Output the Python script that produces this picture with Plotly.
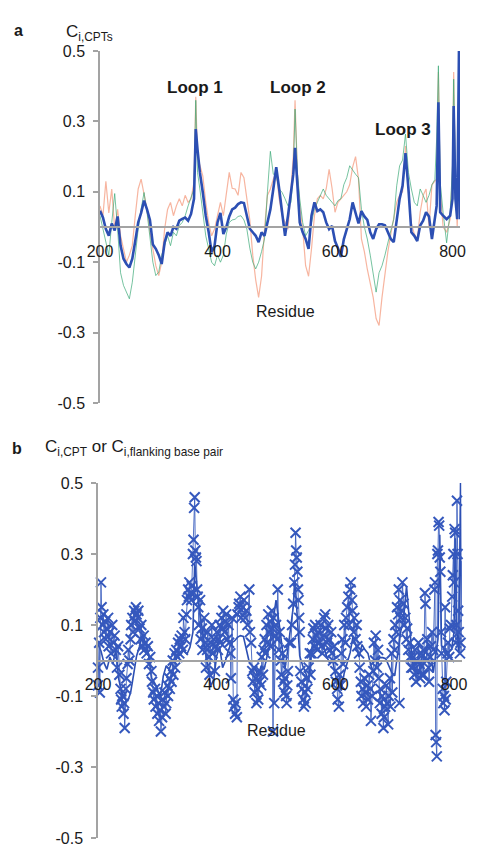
import plotly.graph_objects as go

# ---------------- Panel a data ----------------
residues_a = [
    200, 205, 210, 215, 220, 225, 230, 235, 240, 245,
    250, 255, 260, 265, 270, 275, 280, 285, 290, 295,
    300, 305, 310, 315, 320, 325, 330, 335, 340, 345,
    350, 355, 360, 363, 366, 370, 375, 380, 385, 390,
    395, 400, 405, 410, 415, 420, 425, 430, 435, 440,
    445, 450, 455, 460, 465, 470, 475, 480, 485, 490,
    495, 500, 505, 510, 515, 520, 525, 529, 532, 536,
    540, 545, 550, 555, 560, 565, 570, 575, 580, 585,
    590, 595, 600, 605, 610, 615, 620, 625, 630, 635,
    640, 645, 650, 655, 660, 665, 670, 675, 680, 685,
    690, 695, 700, 705, 710, 715, 720, 725, 730, 735,
    740, 745, 750, 755, 760, 765, 770, 773, 776, 779,
    784, 790, 796, 800, 802, 805, 808, 811, 813,
]

blue_a = [
    0.046, 0.027, -0.006, -0.025, 0.010, -0.010, 0.030, -0.053, -0.090, -0.105,
    -0.115, -0.090, -0.040, 0.013, 0.040, 0.075, 0.050, 0.020, -0.050, -0.062,
    -0.080, -0.105, -0.044, -0.015, -0.025, 0.000, -0.005, 0.018, 0.023, 0.027,
    0.018, 0.037, 0.080, 0.278, 0.220, 0.155, 0.098, 0.032, -0.015, -0.072,
    -0.053, 0.013, 0.040, -0.020, 0.000, 0.030, 0.050, 0.055, 0.065, 0.070,
    0.068, 0.035, -0.005, -0.015, -0.025, -0.043, -0.015, -0.025, 0.010, 0.050,
    0.108, 0.170, 0.108, 0.032, -0.025, 0.032, 0.108, 0.150, 0.225, 0.108,
    0.013, -0.015, -0.034, -0.062, 0.032, 0.070, 0.045, 0.050, 0.042, 0.013,
    -0.006, 0.003, -0.040, -0.060, -0.085, -0.035, -0.006, 0.022, 0.070, 0.040,
    0.010, 0.045, 0.030, 0.020, -0.015, -0.034, -0.006, 0.008, 0.008, 0.005,
    -0.015, -0.034, -0.043, 0.022, 0.080, 0.117, 0.210, 0.108, -0.015, -0.025,
    -0.040, 0.004, 0.018, 0.042, 0.030, -0.034, 0.032, 0.060, 0.354, 0.042,
    0.032, 0.022, 0.032, 0.080, 0.344, 0.080, 0.022, 0.500, 0.022,
]

salmon_a = [
    0.060, 0.032, 0.130, 0.040, 0.108, -0.006, 0.050, -0.025, -0.062, -0.100,
    -0.080, -0.053, 0.032, 0.108, 0.136, 0.090, 0.050, -0.015, -0.062, -0.110,
    -0.138, -0.100, -0.006, 0.050, 0.070, 0.032, 0.060, 0.080, 0.060, 0.090,
    0.070, 0.080, 0.127, 0.370, 0.200, 0.174, 0.145, 0.070, 0.013, -0.025,
    -0.006, 0.032, 0.070, 0.032, 0.100, 0.155, 0.110, 0.108, 0.090, 0.155,
    0.140, 0.080, 0.020, -0.080, -0.150, -0.200, -0.140, -0.006, 0.090, 0.108,
    0.136, 0.155, 0.080, 0.032, 0.010, -0.006, 0.108, 0.200, 0.360, 0.155,
    0.060, -0.006, -0.110, -0.140, -0.062, 0.032, 0.080, 0.090, 0.080, 0.108,
    0.164, 0.110, 0.042, 0.070, 0.080, 0.090, 0.100, 0.120, 0.170, 0.200,
    0.136, -0.034, -0.070, -0.120, -0.165, -0.200, -0.260, -0.280, -0.200, -0.130,
    -0.070, -0.020, 0.030, 0.070, 0.090, 0.100, 0.230, 0.100, 0.010, -0.020,
    -0.034, 0.042, 0.090, 0.108, 0.000, 0.120, 0.130, 0.136, 0.440, 0.108,
    0.000, -0.015, 0.022, 0.155, 0.440, 0.136, 0.000, 0.150, 0.100,
]

green_a = [
    0.032, -0.006, -0.044, -0.080, 0.013, 0.095, -0.006, -0.130, -0.166, -0.185,
    -0.204, -0.157, -0.080, -0.006, 0.051, 0.098, 0.042, -0.034, -0.100, -0.138,
    -0.128, -0.080, -0.053, -0.025, -0.053, -0.015, -0.025, 0.004, 0.013, 0.032,
    0.060, 0.085, 0.108, 0.360, 0.155, 0.108, 0.032, -0.025, -0.062, -0.100,
    -0.110, -0.080, -0.100, -0.080, -0.020, 0.013, 0.020, 0.022, 0.030, 0.032,
    0.020, -0.006, -0.060, -0.100, -0.119, -0.100, -0.070, -0.034, 0.100, 0.215,
    0.150, 0.145, 0.108, 0.098, 0.080, 0.060, 0.070, 0.150, 0.335, 0.155,
    0.080, 0.013, -0.025, -0.010, 0.013, 0.051, 0.070, 0.090, 0.108, 0.090,
    0.080, 0.070, 0.060, 0.075, 0.080, 0.120, 0.140, 0.174, 0.160, 0.150,
    0.140, 0.050, 0.000, -0.034, -0.080, -0.140, -0.185, -0.130, -0.110, -0.080,
    -0.040, -0.010, 0.022, 0.117, 0.174, 0.190, 0.264, 0.155, 0.108, 0.070,
    0.060, 0.108, 0.090, 0.070, 0.090, 0.120, 0.135, 0.250, 0.458, 0.127,
    0.042, -0.045, 0.042, 0.174, 0.420, 0.155, 0.060, 0.180, 0.050,
]

# ---------------- Panel b data (crosses) ----------------
residues_b = [
    198, 200, 200, 202, 203, 204, 205, 206, 208, 209, 210, 212, 213, 215, 217, 218,
    220, 222, 224, 226, 228, 230, 232, 234,
    236, 238, 239, 240, 241, 243, 244, 245, 247, 248, 250,
    251, 253, 255, 256, 258, 259, 261, 262, 264, 265, 267, 268, 270,
    272, 273, 275, 277, 278, 280, 282, 284, 286, 288, 290,
    291, 293, 294, 296, 297, 299, 300, 302, 303, 305, 306, 308, 309, 311, 312, 314,
    315, 317, 318, 320,
    321, 323, 324, 326, 327, 329, 330, 332, 334, 335, 337, 338, 340, 341, 343, 344,
    346, 347, 349,
    350, 352, 353, 354, 356, 357, 358, 360, 361, 362, 363, 364, 365, 366, 367, 368,
    369, 370, 372, 373, 375, 376, 378, 379, 381, 382, 384, 385, 387, 388, 390, 392,
    393, 395, 397, 398,
    400, 402, 403, 405, 406, 408, 410, 411, 413, 415, 416, 418,
    420, 421, 423, 424, 426, 428, 429, 431, 432, 434, 435, 437,
    438, 440, 441, 444, 446, 448, 450, 452, 455, 456, 458,
    460, 461, 463, 464, 466, 467, 469, 470, 472, 473, 475, 476, 478, 479,
    481, 482, 484, 485, 487, 488, 490, 491, 493, 494, 495, 496, 497, 499,
    500, 502, 503, 505, 506, 508, 509, 511, 512, 514, 515, 517, 518, 519,
    520, 522, 525, 527, 529, 531, 532, 533, 534, 535, 536, 537, 538, 539,
    540, 541, 543, 544, 546, 547, 549, 550, 552, 553, 555, 557, 558,
    560, 562, 563, 565, 566, 568, 570, 571, 573, 575, 576, 578, 580, 581, 583, 584,
    586, 588, 589, 591, 593, 594, 596, 598,
    600, 601, 603, 604, 606, 607, 609, 610, 612, 613, 615, 617, 618,
    620, 622, 623, 625, 626, 628, 629, 631, 632, 634, 636, 637,
    640, 641, 643, 644, 646, 647, 649, 651, 652, 654, 655, 657, 659, 660, 662, 664,
    665, 667, 668, 670, 672, 673, 675, 676, 678, 679, 681, 682, 684, 686, 687,
    689, 690, 692, 693, 695, 696, 698, 700, 701, 703, 704, 706, 707, 708, 709, 710,
    712, 713, 715, 716, 718, 720, 721, 723, 725, 726, 728,
    730, 731, 733, 734, 736, 737, 739, 740, 742, 743, 745, 746, 748, 749, 751, 752,
    754, 755, 757, 758, 760,
    761, 763, 765, 767, 768, 769, 770, 771, 772, 773, 774, 775, 776, 777, 778, 779,
    781, 782, 783, 784, 785, 786, 787, 789, 790, 792, 793,
    795, 797, 798, 799, 800, 801, 802, 803, 804, 805, 806, 807, 808,
    810, 811, 813, 814, 815,
]

values_b = [
    0.03, -0.02, -0.07, 0.05, -0.09, 0.12, 0.22, 0.15, 0.10, 0.13, 0.08, 0.11, 0.06, 0.09, 0.12, 0.04,
    0.08, 0.02, 0.10, 0.05, 0.07, 0.03, -0.02, 0.04,
    -0.04, -0.08, -0.11, -0.13, -0.10, -0.15, -0.12, -0.19, -0.08, -0.05, -0.01,
    0.03, 0.00, 0.06, 0.10, 0.12, 0.08, 0.14, 0.11, 0.15, 0.13, 0.12, 0.14, 0.09,
    0.06, 0.10, 0.04, 0.07, 0.03, 0.05, 0.02, 0.04, -0.01, 0.01, -0.03,
    -0.06, -0.09, -0.11, -0.08, -0.13, -0.10, -0.15, -0.12, -0.17, -0.14, -0.20, -0.16, -0.11, -0.13, -0.09, -0.15,
    -0.12, -0.07, -0.10, -0.05,
    -0.08, -0.03, -0.06, 0.00, -0.04, 0.02, -0.02, 0.03, 0.01, 0.05, 0.02, 0.06, 0.04, 0.07, 0.03, 0.12,
    0.08, 0.06, 0.13,
    0.17, 0.20, 0.18, 0.22, 0.19, 0.17, 0.21, 0.30, 0.34, 0.43, 0.46, 0.31, 0.29, 0.28, 0.20, 0.18,
    0.15, 0.10, 0.17, 0.06, 0.09, 0.03, 0.07, 0.12, 0.05, -0.02, 0.03, 0.08, 0.01, -0.04, 0.05, 0.10,
    0.02, 0.06, -0.03, 0.04,
    0.08, 0.03, 0.06, 0.10, 0.05, 0.12, 0.09, 0.14, 0.08, 0.11, 0.13, 0.06,
    0.10, 0.05, 0.02, -0.05, 0.12, -0.11, -0.13, -0.15, -0.12, -0.16, 0.13, 0.15,
    0.16, 0.18, 0.12, 0.15, 0.17, 0.12, 0.14, 0.10, 0.20, 0.08, 0.05,
    -0.03, -0.06, -0.02, -0.09, -0.05, -0.12, -0.08, -0.11, -0.06, -0.03, -0.07, 0.01, -0.04, 0.03,
    0.06, 0.02, 0.10, 0.05, 0.13, 0.08, 0.11, 0.04, 0.14, 0.09, -0.20, 0.12, -0.12, 0.07,
    0.10, 0.06, 0.20, 0.03, 0.08, 0.00, -0.04, 0.02, -0.06, -0.09, -0.05, -0.10, -0.12, -0.07,
    -0.03, 0.05, 0.05, 0.10, 0.16, 0.22, 0.27, 0.36, 0.31, 0.29, 0.25, 0.20, 0.17, 0.12,
    0.08, -0.03, -0.06, -0.08, -0.11, -0.13, -0.09, -0.12, -0.05, -0.08, -0.02, 0.02, -0.04,
    0.02, 0.06, 0.09, 0.04, 0.10, 0.07, 0.03, 0.08, 0.05, 0.10, 0.04, 0.02, 0.07, 0.12, 0.13, 0.09,
    0.05, 0.10, 0.06, 0.03, 0.08, 0.02, 0.00, 0.04,
    -0.03, -0.06, -0.08, -0.11, -0.13, -0.04, -0.07, 0.02, 0.06, -0.01, 0.10, 0.05, 0.12,
    0.15, 0.18, 0.10, 0.20, 0.22, 0.17, 0.14, 0.08, 0.12, 0.06, 0.10, 0.04,
    0.02, -0.02, -0.06, -0.10, -0.08, -0.12, -0.05, -0.09, -0.13, -0.07, -0.11, -0.04, -0.08, -0.17, -0.10, -0.03,
    0.05, 0.00, 0.07, -0.02, 0.03, -0.05, -0.12, -0.08, -0.15, -0.10, -0.19, -0.16, -0.13, -0.07, -0.12,
    -0.18, -0.10, -0.05, -0.13, 0.02, -0.09, 0.06, 0.03, 0.10, 0.08, 0.15, 0.13, 0.20, -0.12, 0.17, 0.12,
    0.14, 0.22, 0.16, 0.10, 0.12, 0.06, 0.09, 0.03, 0.05, 0.01, -0.02,
    -0.02, 0.01, -0.04, 0.03, -0.06, 0.00, -0.03, 0.05, -0.01, -0.05, 0.02, -0.04, 0.03, -0.04, 0.19, 0.16,
    0.00, 0.06, -0.02, -0.06, 0.01,
    0.04, 0.08, 0.03, 0.20, 0.22, -0.21, -0.23, -0.27, 0.30, 0.31, 0.39, 0.38, 0.29, 0.25, 0.08, 0.02,
    -0.08, -0.12, -0.10, -0.14, 0.15, -0.11, -0.06, 0.02, 0.05, 0.01, 0.09,
    0.10, 0.18, 0.24, 0.30, 0.22, 0.37, 0.36, 0.05, 0.10, 0.45, 0.30, 0.14, 0.08,
    0.02, 0.05, 0.28, 0.10, -0.16,
]

y_tick_vals = [-0.5, -0.3, -0.1, 0.1, 0.3, 0.5]
y_tick_text = ["-0.5", "-0.3", "-0.1", "0.1", "0.3", "0.5"]
x_tick_vals = [200, 400, 600, 800]
x_tick_text = ["200", "400", "600", "800"]

BLUE = "#2c4fb3"
SALMON = "rgba(244,150,120,0.70)"
GREEN = "rgba(60,170,120,0.70)"
AXIS = "#a3a3a3"
TXT = "#1a1a1a"
FONT = "Liberation Sans, Arial, sans-serif"

W, H = 478, 848

fig = go.Figure()

fig.add_trace(go.Scatter(x=residues_a, y=salmon_a, mode="lines",
                         line=dict(color=SALMON, width=1.2), xaxis="x", yaxis="y",
                         cliponaxis=False, showlegend=False))
fig.add_trace(go.Scatter(x=residues_a, y=green_a, mode="lines",
                         line=dict(color=GREEN, width=1.0), xaxis="x", yaxis="y",
                         cliponaxis=False, showlegend=False))
fig.add_trace(go.Scatter(x=residues_a, y=blue_a, mode="lines",
                         line=dict(color=BLUE, width=2.6), xaxis="x", yaxis="y",
                         cliponaxis=False, showlegend=False))

fig.add_trace(go.Scatter(x=residues_a, y=blue_a, mode="lines",
                         line=dict(color=BLUE, width=1.6), xaxis="x2", yaxis="y2",
                         cliponaxis=False, showlegend=False))
fig.add_trace(go.Scatter(x=residues_b, y=values_b, mode="lines+markers",
                         line=dict(color="rgba(52,88,188,0.85)", width=1.0),
                         marker=dict(symbol="x-thin", size=10,
                                     line=dict(width=2.0, color="#3558bd")),
                         xaxis="x2", yaxis="y2",
                         cliponaxis=False, showlegend=False))

# geometry (pixels)
ya_top, ya_bot = 51, 403
yb_top, yb_bot = 483, 838
xa_left, xa_right = 100, 100 + 612.8 * 352.5 / 600
xb_left, xb_right = 98, 98 + 612.8 * 356 / 600

def pf(px):
    return 1 - px / H

common_x = dict(range=[200, 812.8], tickvals=x_tick_vals, ticktext=x_tick_text,
                showline=True, linecolor=AXIS, linewidth=1.5, ticks="",
                showgrid=False, zeroline=False, anchor="free", automargin=False,
                tickfont=dict(size=16, color=TXT, family=FONT),
                ticklabelstandoff=10)
common_y = dict(range=[-0.5, 0.5], tickvals=y_tick_vals, ticktext=y_tick_text,
                showline=True, linecolor=AXIS, linewidth=1.5, ticks="outside",
                ticklen=5, tickwidth=1.5, tickcolor=AXIS, automargin=False,
                showgrid=False, zeroline=False, ticklabeloverflow="allow",
                tickfont=dict(size=16, color=TXT, family=FONT),
                ticklabelstandoff=5)

fig.update_layout(
    width=W, height=H,
    margin=dict(l=0, r=0, t=0, b=0, autoexpand=False),
    paper_bgcolor="white", plot_bgcolor="white",
    font=dict(family=FONT, color=TXT),
    xaxis=dict(domain=[xa_left / W, xa_right / W],
               position=(pf(ya_top) + pf(ya_bot)) / 2, **common_x),
    yaxis=dict(domain=[pf(ya_bot), pf(ya_top)], anchor="x", **common_y),
    xaxis2=dict(domain=[xb_left / W, xb_right / W],
                position=(pf(yb_top) + pf(yb_bot)) / 2, **common_x),
    yaxis2=dict(domain=[pf(yb_bot), pf(yb_top)], anchor="x2", **common_y),
)

loop_font = dict(size=17, color=TXT, family=FONT)
annotations = [
    dict(x=362, y=0.397, xref="x", yref="y", text="<b>Loop 1</b>", showarrow=False, font=loop_font),
    dict(x=537, y=0.397, xref="x", yref="y", text="<b>Loop 2</b>", showarrow=False, font=loop_font),
    dict(x=716, y=0.278, xref="x", yref="y", text="<b>Loop 3</b>", showarrow=False, font=loop_font),
    dict(x=762, y=0.539, xref="x", yref="y", text="<b>Flanking<br>Base pairs</b>",
         showarrow=False, font=loop_font),
    dict(x=515, y=-0.241, xref="x", yref="y", text="Residue", showarrow=False,
         font=dict(size=16, color=TXT, family=FONT)),
    dict(x=500, y=-0.196, xref="x2", yref="y2", text="Residue", showarrow=False,
         font=dict(size=16, color=TXT, family=FONT)),
    dict(x=12 / W, y=pf(20), xref="paper", yref="paper", xanchor="left", text="<b>a</b>",
         showarrow=False, font=dict(size=16, color=TXT, family=FONT)),
    dict(x=64 / W, y=pf(20), xref="paper", yref="paper", xanchor="left",
         text="C<sub>i,CPTs</sub>", showarrow=False, font=dict(size=17, color=TXT, family=FONT)),
    dict(x=10 / W, y=pf(448), xref="paper", yref="paper", xanchor="left", text="<b>b</b>",
         showarrow=False, font=dict(size=16, color=TXT, family=FONT)),
    dict(x=43 / W, y=pf(448), xref="paper", yref="paper", xanchor="left",
         text="C<sub>i,CPT</sub> or C<sub>i,flanking base pair</sub>", showarrow=False,
         font=dict(size=17, color=TXT, family=FONT)),
]
fig.update_layout(annotations=annotations)

fig.write_html("out.html")
